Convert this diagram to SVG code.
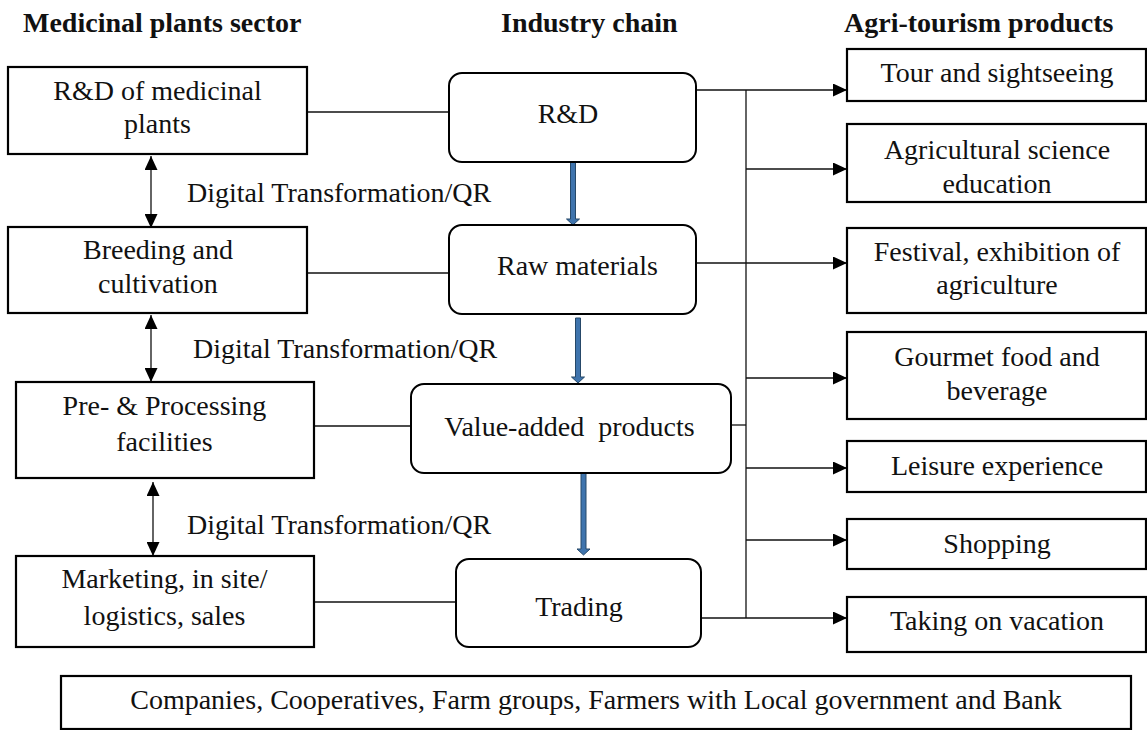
<svg xmlns="http://www.w3.org/2000/svg" width="1147" height="730" viewBox="0 0 1147 730">
  <style>
    text { font-family: "Liberation Serif", "Times New Roman", serif; font-size: 28px; fill: #111; }
    .hdr { font-weight: bold; }
    .mid { text-anchor: middle; }
    .box { fill: #fff; stroke: #000; stroke-width: 2.2; }
    .rbox { fill: #fff; stroke: #000; stroke-width: 2; }
    .ln { fill: none; stroke: #111; stroke-width: 1.3; }
    .flow { fill: #3f74ad; stroke: #264868; stroke-width: 1; }
  </style>
  <defs>
    <marker id="tri" viewBox="0 0 14 13" refX="14" refY="6.5" markerWidth="14" markerHeight="13" markerUnits="userSpaceOnUse" orient="auto-start-reverse">
      <path d="M0,0 L14,6.5 L0,13 Z" fill="#000"/>
    </marker>
  </defs>

  <!-- column headings -->
  <g id="headings">
    <text class="hdr" x="23" y="32">Medicinal plants sector</text>
    <text class="hdr" x="501" y="32">Industry chain</text>
    <text class="hdr" x="844" y="32">Agri-tourism products</text>
  </g>

  <!-- connectors -->
  <g id="connectors">
    <!-- sector to chain links -->
    <line class="ln" x1="307" y1="112" x2="449" y2="112"/>
    <line class="ln" x1="307" y1="273" x2="449" y2="273"/>
    <line class="ln" x1="314" y1="426" x2="411" y2="426"/>
    <line class="ln" x1="314" y1="602" x2="456" y2="602"/>
    <!-- two-way links between sector stages -->
    <line class="ln" x1="151" y1="156" x2="151" y2="228" marker-start="url(#tri)" marker-end="url(#tri)"/>
    <line class="ln" x1="151" y1="315" x2="151" y2="382" marker-start="url(#tri)" marker-end="url(#tri)"/>
    <line class="ln" x1="153" y1="482" x2="153" y2="556" marker-start="url(#tri)" marker-end="url(#tri)"/>
    <!-- chain flow arrows -->
    <path class="flow" d="M570.5,162 h5 v57 h4 l-6.5,6 l-6.5,-6 h4 Z"/>
    <path class="flow" d="M575.5,318 h5 v59 h4 l-6.5,6 l-6.5,-6 h4 Z"/>
    <path class="flow" d="M581,473 h5 v76 h4 l-6.5,6 l-6.5,-6 h4 Z"/>
    <!-- distribution bus to tourism products -->
    <line class="ln" x1="746" y1="90" x2="746" y2="618"/>
    <line class="ln" x1="696" y1="90" x2="847" y2="90" marker-end="url(#tri)"/>
    <line class="ln" x1="746" y1="169" x2="847" y2="169" marker-end="url(#tri)"/>
    <line class="ln" x1="696" y1="263" x2="847" y2="263" marker-end="url(#tri)"/>
    <line class="ln" x1="746" y1="378" x2="847" y2="378" marker-end="url(#tri)"/>
    <line class="ln" x1="731" y1="425" x2="746" y2="425"/>
    <line class="ln" x1="746" y1="468" x2="847" y2="468" marker-end="url(#tri)"/>
    <line class="ln" x1="746" y1="540" x2="847" y2="540" marker-end="url(#tri)"/>
    <line class="ln" x1="701" y1="618" x2="847" y2="618" marker-end="url(#tri)"/>
  </g>

  <!-- medicinal plants sector -->
  <g id="sector-rd">
    <rect class="box" x="8" y="67" width="299" height="87"/>
    <text class="mid" x="157.5" y="100">R&amp;D of medicinal</text>
    <text class="mid" x="157.5" y="133">plants</text>
  </g>
  <g id="sector-breeding">
    <rect class="box" x="8" y="227" width="299" height="86"/>
    <text class="mid" x="158" y="259">Breeding and</text>
    <text class="mid" x="158" y="293">cultivation</text>
  </g>
  <g id="sector-processing">
    <rect class="box" x="16" y="382" width="298" height="96"/>
    <text class="mid" x="164.5" y="415">Pre- &amp; Processing</text>
    <text class="mid" x="164.5" y="451">facilities</text>
  </g>
  <g id="sector-marketing">
    <rect class="box" x="16" y="556" width="298" height="91"/>
    <text class="mid" x="164.5" y="588">Marketing, in site/</text>
    <text class="mid" x="164.5" y="625">logistics, sales</text>
  </g>

  <g id="labels-dt">
    <text x="187" y="202">Digital Transformation/QR</text>
    <text x="193" y="358">Digital Transformation/QR</text>
    <text x="187" y="534">Digital Transformation/QR</text>
  </g>

  <!-- industry chain -->
  <g id="chain-rd">
    <rect class="rbox" x="449" y="73" width="247" height="89" rx="13"/>
    <text class="mid" x="568" y="123">R&amp;D</text>
  </g>
  <g id="chain-raw">
    <rect class="rbox" x="449" y="225" width="247" height="89" rx="13"/>
    <text class="mid" x="577.5" y="275">Raw materials</text>
  </g>
  <g id="chain-value">
    <rect class="rbox" x="411" y="384" width="320" height="89" rx="13"/>
    <text class="mid" x="569.5" y="436" xml:space="preserve">Value-added  products</text>
  </g>
  <g id="chain-trading">
    <rect class="rbox" x="456" y="559" width="245" height="88" rx="13"/>
    <text class="mid" x="579" y="616">Trading</text>
  </g>

  <!-- agri-tourism products -->
  <g id="prod-tour">
    <rect class="box" x="847" y="49" width="299" height="52"/>
    <text class="mid" x="997" y="82">Tour and sightseeing</text>
  </g>
  <g id="prod-education">
    <rect class="box" x="847" y="124" width="299" height="78"/>
    <text class="mid" x="997" y="159">Agricultural science</text>
    <text class="mid" x="997" y="193">education</text>
  </g>
  <g id="prod-festival">
    <rect class="box" x="847" y="228" width="299" height="85"/>
    <text class="mid" x="997" y="261">Festival, exhibition of</text>
    <text class="mid" x="997" y="294">agriculture</text>
  </g>
  <g id="prod-gourmet">
    <rect class="box" x="847" y="332" width="299" height="87"/>
    <text class="mid" x="997" y="366">Gourmet food and</text>
    <text class="mid" x="997" y="400">beverage</text>
  </g>
  <g id="prod-leisure">
    <rect class="box" x="847" y="441" width="299" height="51"/>
    <text class="mid" x="997" y="475">Leisure experience</text>
  </g>
  <g id="prod-shopping">
    <rect class="box" x="847" y="519" width="299" height="50"/>
    <text class="mid" x="997" y="553">Shopping</text>
  </g>
  <g id="prod-vacation">
    <rect class="box" x="847" y="597" width="299" height="55"/>
    <text class="mid" x="997" y="630">Taking on vacation</text>
  </g>

  <!-- stakeholders -->
  <g id="stakeholders">
    <rect class="box" x="61" y="676" width="1070" height="53"/>
    <text class="mid" x="596" y="709">Companies, Cooperatives, Farm groups, Farmers with Local government and Bank</text>
  </g>
</svg>
